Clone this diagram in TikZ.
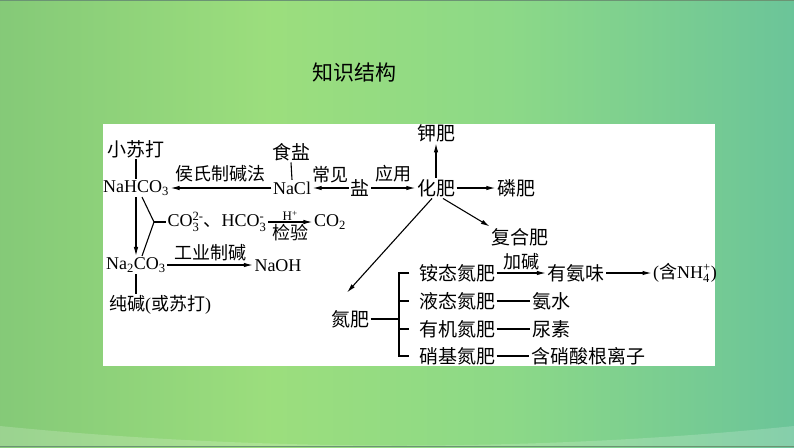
\documentclass[tikz,border=0pt]{standalone}
\usepackage{fontspec}
\usepackage{amsmath}
\setmainfont{Liberation Serif}
\newfontfamily\cjk{Noto Sans CJK SC}
\usetikzlibrary{arrows.meta}
\pgfdeclarehorizontalshading{bgshade}{100bp}{rgb(0bp)=(0.52,0.79,0.47); rgb(25bp)=(0.52,0.79,0.47); rgb(42bp)=(0.61,0.87,0.49); rgb(57bp)=(0.55,0.85,0.53); rgb(75bp)=(0.42,0.77,0.60); rgb(100bp)=(0.42,0.77,0.60)}
\newcommand\ionx[2]{\ensuremath{_{\text{#1}}^{\text{#2}}}}
\tikzset{
  tx/.style={inner sep=1.5pt, font=\fontsize{18}{20}\selectfont},
  cn/.style={inner sep=1.5pt, font=\fontsize{19}{21}\selectfont\cjk},
  lab/.style={inner sep=1pt, font=\fontsize{18}{20}\selectfont\cjk},
  arr/.style={line width=1.1pt, -{Latex[length=9pt,width=4.5pt]}},
  ln/.style={line width=1.1pt},
  thk/.style={line width=2.2pt},
}
\begin{document}
\begin{tikzpicture}[x=1pt,y=-1pt]
\useasboundingbox (0,0) rectangle (794,447);
\shade[shading=bgshade] (0,0) rectangle (794,447);
\fill[white,opacity=0.18] (0,426) .. controls (260,452) and (540,452) .. (794,426) -- (794,447) -- (0,447) -- cycle;
\draw[color={rgb,1:red,0.42;green,0.58;blue,0.45}, line width=1pt] (0,0.5) -- (794,0.5) (0,446.5) -- (794,446.5);
\fill[white] (103,124) rectangle (715,366);

\node[font=\fontsize{21}{24}\selectfont\cjk] (title) at (354,73) {知识结构};

\node[cn] (xsd) at (136,149) {小苏打};
\node[tx] (nahco3) at (136,188) {NaHCO\textsubscript{3}};
\node[cn] (shiyan) at (291,152) {食盐};
\node[tx] (nacl) at (292,188) {NaCl};
\node[cn] (yan) at (360,188) {盐};
\node[cn] (huafei) at (436,188) {化肥};
\node[cn] (jiafei) at (436,133) {钾肥};
\node[cn] (linfei) at (516,188) {磷肥};
\node[cn] (fuhe) at (520,237) {复合肥};
\node[tx] (co3) at (217,222) {CO\ionx{3}{2-}{\cjk 、}HCO\ionx{3}{-}};
\node[tx] (co2) at (330,222) {CO\textsubscript{2}};
\node[tx] (na2co3) at (136,265) {Na\textsubscript{2}CO\textsubscript{3}};
\node[tx] (naoh) at (278,266) {NaOH};
\node[tx] (cj) at (160,305) {{\cjk 纯碱}({\cjk 或苏打})};
\node[cn] (danfei) at (350,319) {氮肥};
\node[cn] (a1) at (457,273) {铵态氮肥};
\node[cn] (a2) at (457,301) {液态氮肥};
\node[cn] (a3) at (457,329) {有机氮肥};
\node[cn] (a4) at (457,356) {硝基氮肥};
\node[cn] (yw) at (576,273) {有氨味};
\node[tx] (nh4) at (685,273) {({\cjk 含}NH\ionx{4}{+})};
\node[cn] (anshui) at (551,301) {氨水};
\node[cn] (niaosu) at (551,329) {尿素};
\node[cn] (xsg) at (588,356) {含硝酸根离子};

\draw[ln] (xsd.south) -- (nahco3.north);
\draw[ln] (shiyan.south) -- (nacl.north);
\draw[arr] (nacl.west) -- node[lab,above=4pt]{侯氏制碱法} (nacl.west -| nahco3.east);
\draw[arr] (yan.west) -- node[lab,above=4pt]{常见} (yan.west -| nacl.east);
\draw[arr] (yan.east) -- node[lab,above=4pt]{应用} (yan.east -| huafei.west);
\draw[arr] (huafei.north) -- (jiafei.south);
\draw[arr] (huafei.east) -- (huafei.east -| linfei.west);
\draw[arr] ([xshift=7pt]huafei.south) -- (fuhe.north west);
\draw[arr] ([xshift=-4pt]huafei.south) -- ([xshift=-3pt,yshift=16pt]danfei.north);

\coordinate (fk) at (154,222);
\draw[ln] ([xshift=6pt]nahco3.south) -- (fk) -- ([xshift=6pt]na2co3.north);
\draw[ln] (fk) -- (co3.west);
\draw[arr] (nahco3.south) -- (na2co3.north);
\draw[arr] (co3.east) -- node[above=0pt,inner sep=1pt,font=\fontsize{13}{14}\selectfont]{H\textsuperscript{+}} node[lab,below=1pt]{检验} (co3.east -| co2.west);
\draw[arr] (na2co3.east) -- node[lab,above=2pt]{工业制碱} (na2co3.east -| naoh.west);
\draw[ln] (na2co3.south) -- (na2co3.south |- cj.north);

\coordinate (bj) at (399,319);
\draw[thk] (danfei.east) -- (bj);
\draw[thk] ([xshift=-8pt]a1.west) -- (bj |- a1) -- (bj |- a4) -- ([xshift=-8pt]a4.west);
\draw[thk] (bj |- a2) -- ([xshift=-8pt]a2.west);
\draw[thk] (bj |- a3) -- ([xshift=-8pt]a3.west);

\draw[arr] (a1.east) -- node[lab,above=1pt]{加碱} (a1.east -| yw.west);
\draw[arr] (yw.east) -- (yw.east -| nh4.west);
\draw[thk] (a2.east) -- (anshui.west);
\draw[thk] (a3.east) -- (niaosu.west);
\draw[thk] (a4.east) -- (xsg.west);
\end{tikzpicture}
\end{document}
